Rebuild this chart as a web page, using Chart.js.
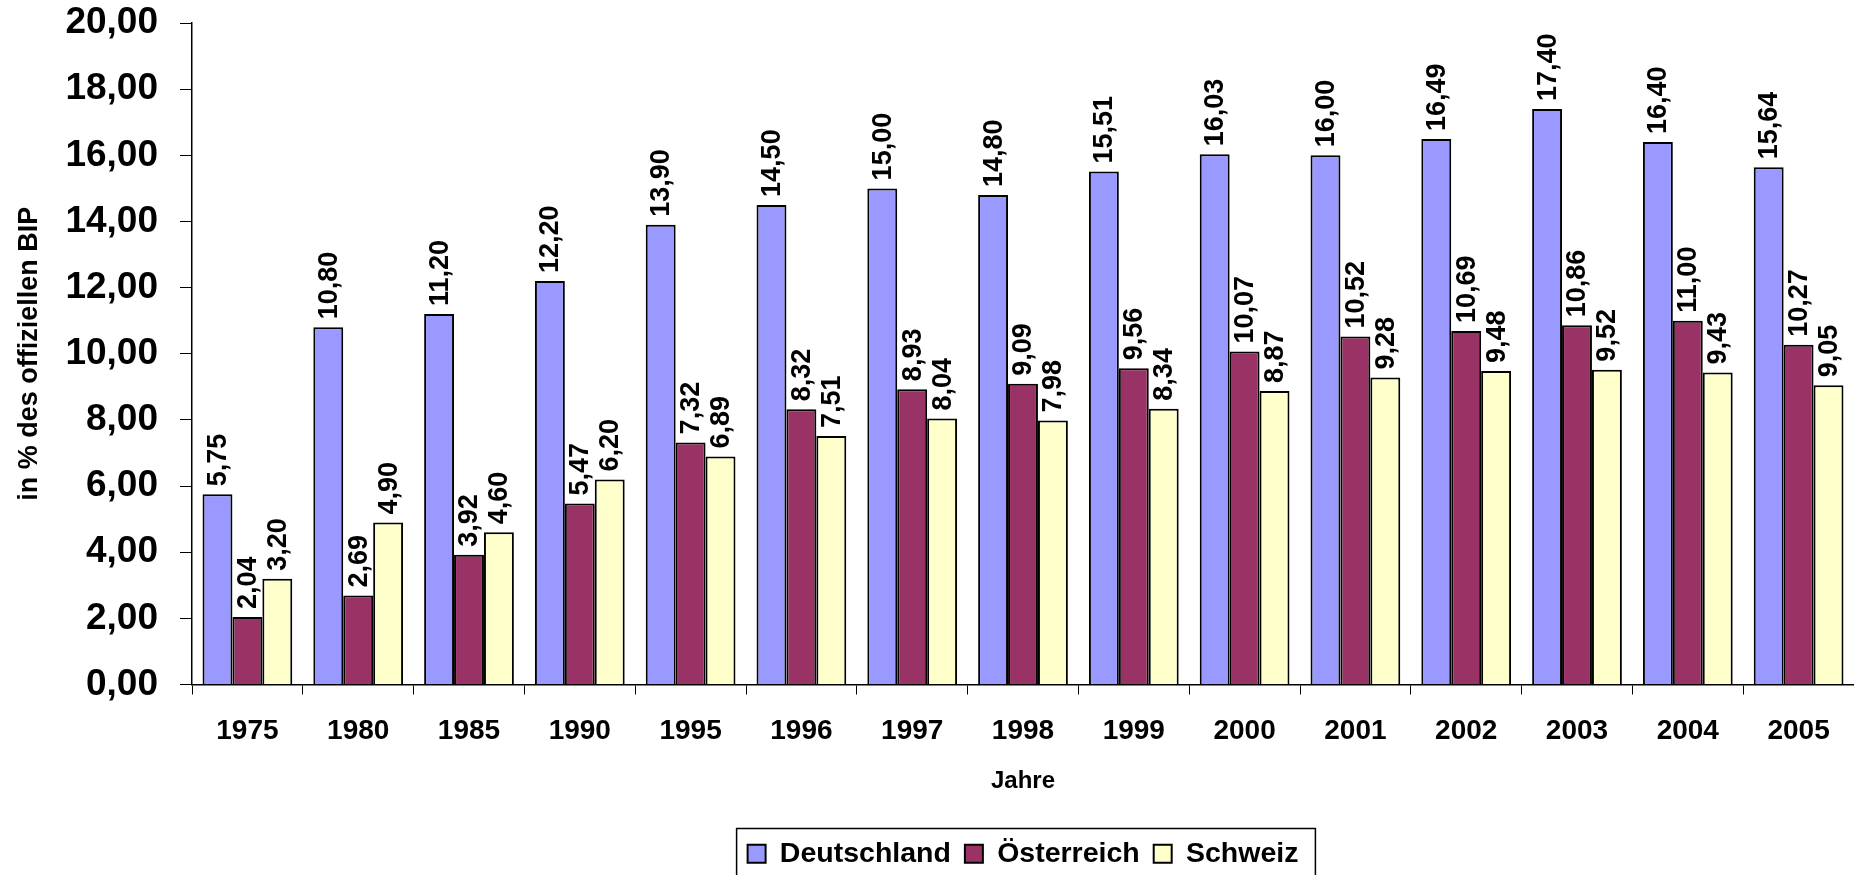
<!DOCTYPE html>
<html>
<head>
<meta charset="utf-8">
<script src="https://cdn.jsdelivr.net/npm/chart.js@4/dist/chart.umd.min.js"></script>
<style>
  html, body { margin: 0; padding: 0; background: #fff; }
  #wrap { width: 1854px; height: 875px; }
</style>
</head>
<body>
<div id="wrap"><canvas id="shadowChart" width="1854" height="875"></canvas></div>
<script>
const years = ['1975', '1980', '1985', '1990', '1995', '1996', '1997', '1998', '1999', '2000', '2001', '2002', '2003', '2004', '2005'];
const deutschland = [5.75, 10.80, 11.20, 12.20, 13.90, 14.50, 15.00, 14.80, 15.51, 16.03, 16.00, 16.49, 17.40, 16.40, 15.64];
const oesterreich = [2.04, 2.69, 3.92, 5.47, 7.32, 8.32, 8.93, 9.09, 9.56, 10.07, 10.52, 10.69, 10.86, 11.00, 10.27];
const schweiz = [3.20, 4.90, 4.60, 6.20, 6.89, 7.51, 8.04, 7.98, 8.34, 8.87, 9.28, 9.48, 9.52, 9.43, 9.05];

const fontFamily = '"Liberation Sans", Arial, sans-serif';

function fmt(v) {
    return v.toFixed(2).replace('.', ',');
}

// value labels, rotated, sitting on top of each bar
const barLabels = {
    id: 'barLabels',
    afterDatasetsDraw(chart) {
        const ctx = chart.ctx;
        ctx.save();
        ctx.font = 'bold 27px ' + fontFamily;
        ctx.fillStyle = '#000';
        ctx.textAlign = 'left';
        ctx.textBaseline = 'middle';
        chart.data.datasets.forEach((ds, i) => {
            chart.getDatasetMeta(i).data.forEach((bar, j) => {
                ctx.save();
                ctx.translate(bar.x, bar.y - 8);
                ctx.rotate(-Math.PI / 2);
                ctx.fillText(fmt(ds.data[j]), 0, 1);
                ctx.restore();
            });
        });
        ctx.restore();
    }
};

// frame round the legend
const legendFrame = {
    id: 'legendFrame',
    afterDraw(chart) {
        const boxes = chart.legend.legendHitBoxes;
        if (!boxes || !boxes.length) return;
        const left = Math.min(...boxes.map(b => b.left)) - 11;
        const right = Math.max(...boxes.map(b => b.left + b.width)) + 17;
        const top = Math.min(...boxes.map(b => b.top)) - 11;
        const ctx = chart.ctx;
        ctx.save();
        ctx.strokeStyle = '#000';
        ctx.lineWidth = 1.5;
        ctx.strokeRect(left, top, right - left, 80);
        ctx.restore();
    }
};

const ctx = document.getElementById('shadowChart').getContext('2d');
new Chart(ctx, {
    type: 'bar',
    data: {
        labels: years,
        datasets: [
            { label: 'Deutschland', data: deutschland, backgroundColor: '#9999FF' },
            { label: 'Österreich', data: oesterreich, backgroundColor: '#993366' },
            { label: 'Schweiz', data: schweiz, backgroundColor: '#FFFFCC' }
        ]
    },
    options: {
        responsive: false,
        animation: false,
        layout: { padding: { top: 0, right: 0, bottom: -3, left: 0 } },
        datasets: {
            bar: {
                borderColor: '#000',
                borderWidth: 2,
                categoryPercentage: 0.81,
                barPercentage: 1.0
            }
        },
        plugins: {
            tooltip: { enabled: false },
            legend: {
                position: 'bottom',
                fullSize: false,
                labels: {
                    color: '#000',
                    font: { family: fontFamily, size: 28.5, weight: 'bold' },
                    boxWidth: 18,
                    boxHeight: 18,
                    padding: 14
                }
            }
        },
        scales: {
            x: {
                afterFit(scale) { scale.height = 141; },
                border: { color: '#000', width: 1.5 },
                grid: { drawOnChartArea: false, color: '#000', tickLength: 10, offset: true },
                ticks: {
                    color: '#000',
                    padding: 20,
                    maxRotation: 0,
                    font: { family: fontFamily, size: 28, weight: 'bold' }
                },
                title: {
                    display: true,
                    text: 'Jahre',
                    color: '#000',
                    padding: { top: 0, bottom: 30 },
                    font: { family: fontFamily, size: 24, weight: 'bold' }
                }
            },
            y: {
                min: 0,
                max: 20,
                afterFit(scale) {
                    scale.width = 192;
                    scale.paddingTop = 23;
                    scale.paddingBottom = 0;
                },
                border: { color: '#000', width: 1.5 },
                grid: { drawOnChartArea: false, color: '#000', tickLength: 12 },
                ticks: {
                    stepSize: 2,
                    color: '#000',
                    padding: 22,
                    font: { family: fontFamily, size: 37, weight: 'bold' },
                    callback: v => fmt(v)
                },
                title: {
                    display: true,
                    text: 'in % des offiziellen BIP',
                    color: '#000',
                    padding: { top: 13, bottom: 0 },
                    font: { family: fontFamily, size: 27, weight: 'bold' }
                }
            }
        }
    },
    plugins: [barLabels, legendFrame]
});
</script>
</body>
</html>
